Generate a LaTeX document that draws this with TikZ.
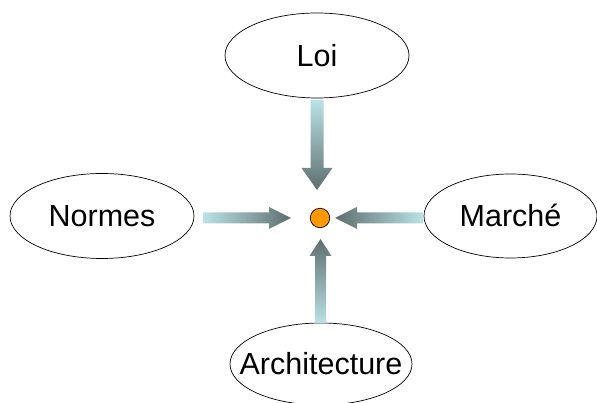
\documentclass[tikz,border=0pt]{standalone}
\usepackage{fontspec}
\setmainfont{Liberation Sans}
\usetikzlibrary{shapes.geometric,calc}
\definecolor{arrlight}{RGB}{186,226,230}
\definecolor{arrdark}{RGB}{94,110,110}
\definecolor{dotorange}{RGB}{255,153,0}
\tikzset{
  oval/.style={draw=black, line width=0.7pt, ellipse, inner sep=0pt},
  lbl/.style={font=\fontsize{30.5}{36}\selectfont, text height=22pt, text depth=0pt, inner sep=0pt},
  hub/.style={draw=black, line width=0.7pt, circle, fill=dotorange, minimum size=19.5pt, inner sep=0pt}
}
\begin{document}
\begin{tikzpicture}[x=1pt,y=1pt]
\useasboundingbox (0,0) rectangle (597,403);
\node[oval, minimum width=184pt, minimum height=85pt, label={[lbl]center:Loi}] (loi) at (317,347.5) {};
\node[oval, minimum width=184pt, minimum height=85pt, label={[lbl]center:Normes}] (normes) at (102,187) {};
\node[oval, minimum width=173pt, minimum height=84pt, label={[lbl]center:Marché}] (marche) at (510.5,187) {};
\node[oval, minimum width=182pt, minimum height=82pt, label={[lbl]center:Architecture}] (arch) at (321,39) {};
\node[hub] (c) at (320,185) {};
% connector end points
\coordinate (ts) at (317,303);
\coordinate (tt) at (317,213);
\coordinate (ls) at (203,185);
\coordinate (lt) at (291,185);
\coordinate (rs) at (423,185);
\coordinate (rt) at (335,185);
\coordinate (bs) at (320.5,80);
\coordinate (bt) at (320.5,164);
% top arrow (down)
\shade[top color=arrlight, bottom color=arrdark]
  ($(ts)+(-6.5,0)$) -- ($(ts)+(6.5,0)$) -- ($(tt)+(6.5,22)$) -- ($(tt)+(15.5,22)$)
  -- (tt) -- ($(tt)+(-15.5,22)$) -- ($(tt)+(-6.5,22)$) -- cycle;
% left arrow (right)
\shade[left color=arrlight, right color=arrdark]
  ($(ls)+(0,5.5)$) -- ($(ls)+(0,-5.5)$) -- ($(lt)+(-22,-5.5)$) -- ($(lt)+(-22,-11)$)
  -- (lt) -- ($(lt)+(-22,11)$) -- ($(lt)+(-22,5.5)$) -- cycle;
% right arrow (left)
\shade[left color=arrdark, right color=arrlight]
  ($(rs)+(0,5.5)$) -- ($(rs)+(0,-5.5)$) -- ($(rt)+(22,-5.5)$) -- ($(rt)+(22,-11)$)
  -- (rt) -- ($(rt)+(22,11)$) -- ($(rt)+(22,5.5)$) -- cycle;
% bottom arrow (up)
\shade[top color=arrdark, bottom color=arrlight]
  ($(bs)+(-5.5,0)$) -- ($(bs)+(5.5,0)$) -- ($(bt)+(5.5,-17)$) -- ($(bt)+(11,-17)$)
  -- (bt) -- ($(bt)+(-11,-17)$) -- ($(bt)+(-5.5,-17)$) -- cycle;
\end{tikzpicture}
\end{document}
